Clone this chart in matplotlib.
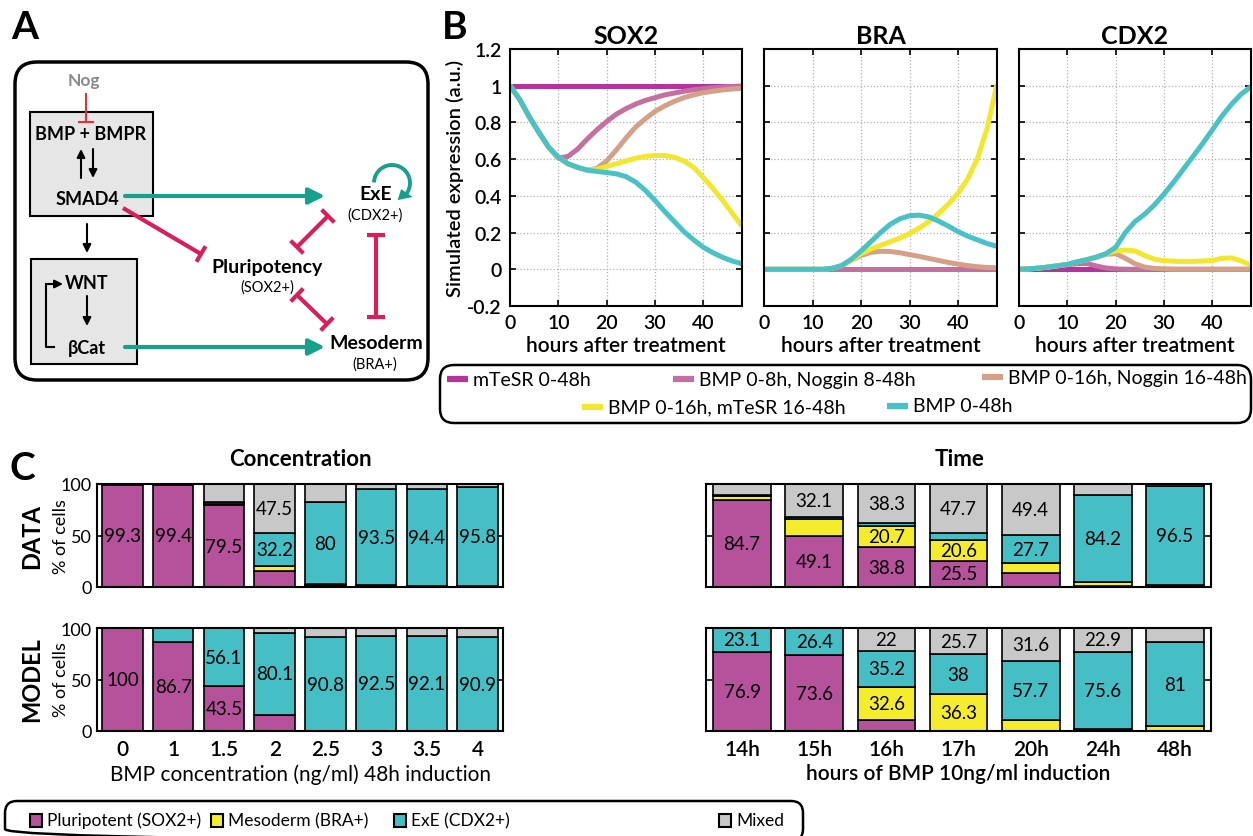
import numpy as np
import matplotlib.pyplot as plt
from matplotlib.patches import FancyBboxPatch, Rectangle

plt.rcParams['font.family'] = ['Lato', 'DejaVu Sans']

W, H = 1253, 837

# ---------------- panel B data ----------------
hours = [0, 2, 4, 6, 8, 10, 12, 14, 16, 18, 20, 22, 24,
         26, 28, 30, 32, 34, 36, 38, 40, 42, 44, 46, 48]
conditions = ['mTeSR 0-48h', 'BMP 0-8h, Noggin 8-48h', 'BMP 0-16h, Noggin 16-48h',
              'BMP 0-16h, mTeSR 16-48h', 'BMP 0-48h']
cond_colors = ['#B5339A', '#C46EA2', '#D6A088', '#F2E62E', '#48C2C6']

sox2_mtesr = [1.0] * 25
sox2_nog8 = [1.0, 0.925, 0.83, 0.745, 0.665, 0.605, 0.615, 0.655, 0.71, 0.76, 0.805, 0.845, 0.875,
             0.9, 0.92, 0.935, 0.95, 0.96, 0.97, 0.978, 0.984, 0.989, 0.993, 0.996, 0.998]
sox2_nog16 = [1.0, 0.925, 0.83, 0.745, 0.665, 0.61, 0.575, 0.555, 0.54, 0.55, 0.59, 0.65, 0.715,
              0.775, 0.82, 0.86, 0.89, 0.915, 0.935, 0.95, 0.962, 0.97, 0.977, 0.982, 0.986]
sox2_mt16 = [1.0, 0.925, 0.83, 0.745, 0.665, 0.61, 0.575, 0.555, 0.54, 0.545, 0.56, 0.575, 0.59,
             0.605, 0.615, 0.62, 0.62, 0.61, 0.59, 0.555, 0.5, 0.44, 0.375, 0.305, 0.235]
sox2_bmp = [1.0, 0.925, 0.83, 0.745, 0.665, 0.61, 0.575, 0.555, 0.54, 0.533, 0.527, 0.52, 0.505,
            0.475, 0.43, 0.375, 0.315, 0.26, 0.205, 0.16, 0.12, 0.09, 0.065, 0.045, 0.03]

bra_mtesr = [0.0] * 25
bra_nog8 = [0.0] * 25
bra_nog16 = [0, 0, 0, 0, 0, 0, 0, 0.005, 0.02, 0.05, 0.075, 0.092, 0.098,
             0.097, 0.09, 0.08, 0.07, 0.059, 0.048, 0.037, 0.028, 0.02, 0.014, 0.01, 0.008]
bra_mt16 = [0, 0, 0, 0, 0, 0, 0, 0.005, 0.02, 0.05, 0.085, 0.11, 0.13,
            0.15, 0.17, 0.195, 0.225, 0.26, 0.305, 0.355, 0.415, 0.495, 0.605, 0.77, 1.01]
bra_bmp = [0, 0, 0, 0, 0, 0, 0, 0.005, 0.02, 0.055, 0.10, 0.15, 0.2,
           0.245, 0.275, 0.292, 0.295, 0.285, 0.262, 0.235, 0.205, 0.18, 0.16, 0.14, 0.125]

cdx2_mtesr = [0.0] * 25
cdx2_nog8 = [0, 0.002, 0.006, 0.012, 0.019, 0.025, 0.03, 0.032, 0.018, 0.007, 0.002, 0, 0,
             0, 0, 0, 0, 0, 0, 0, 0, 0, 0, 0, 0]
cdx2_nog16 = [0, 0.002, 0.006, 0.012, 0.019, 0.027, 0.04, 0.052, 0.066, 0.082, 0.085, 0.06, 0.03,
              0.012, 0.005, 0.002, 0, 0, 0, 0, 0, 0, 0, 0, 0]
cdx2_mt16 = [0, 0.002, 0.006, 0.012, 0.019, 0.027, 0.04, 0.052, 0.066, 0.085, 0.1, 0.105, 0.1,
             0.075, 0.055, 0.047, 0.044, 0.043, 0.043, 0.045, 0.048, 0.06, 0.062, 0.045, 0.022]
cdx2_bmp = [0, 0.002, 0.006, 0.012, 0.019, 0.027, 0.04, 0.052, 0.066, 0.085, 0.12, 0.2, 0.26,
            0.3, 0.35, 0.41, 0.475, 0.545, 0.615, 0.685, 0.76, 0.835, 0.9, 0.955, 0.995]

# ---------------- panel C data ----------------
conc_labels = ['0', '1', '1.5', '2', '2.5', '3', '3.5', '4']
time_labels = ['14h', '15h', '16h', '17h', '20h', '24h', '48h']
fate_names = ['Pluripotent (SOX2+)', 'Mesoderm (BRA+)', 'ExE (CDX2+)', 'Mixed']
fate_colors = ['#B5529B', '#F5EC2E', '#45BFC5', '#C8C8C8']

data_conc_pluri = [99.3, 99.4, 79.5, 15.5, 1.5, 1.0, 0.8, 0.8]
data_conc_meso = [0.2, 0.2, 1.2, 4.8, 1.0, 0.5, 0.4, 0.4]
data_conc_exe = [0.2, 0.2, 1.8, 32.2, 80, 93.5, 94.4, 95.8]
data_conc_mixed = [0.3, 0.2, 17.5, 47.5, 17.5, 5.0, 4.4, 3.0]

model_conc_pluri = [100, 86.7, 43.5, 15.5, 0, 0, 0, 0]
model_conc_meso = [0, 0, 0, 0, 0, 0, 0, 0]
model_conc_exe = [0, 13.3, 56.1, 80.1, 90.8, 92.5, 92.1, 90.9]
model_conc_mixed = [0, 0, 0.4, 4.4, 9.2, 7.5, 7.9, 9.1]

data_time_pluri = [84.7, 49.1, 38.8, 25.5, 13.5, 1.0, 1.0]
data_time_meso = [3.8, 17, 20.7, 20.6, 9.4, 4.0, 0.5]
data_time_exe = [0.8, 1.8, 2.2, 6.2, 27.7, 84.2, 96.5]
data_time_mixed = [10.7, 32.1, 38.3, 47.7, 49.4, 10.8, 2.0]

model_time_pluri = [76.9, 73.6, 10.2, 0, 0, 0, 0]
model_time_meso = [0, 0, 32.6, 36.3, 10.7, 1.5, 5.0]
model_time_exe = [23.1, 26.4, 35.2, 38, 57.7, 75.6, 81]
model_time_mixed = [0, 0, 22, 25.7, 31.6, 22.9, 14]

TEAL = '#17A08E'
RED = '#D81E5B'

fig = plt.figure(figsize=(W / 100, H / 100), dpi=100)

# overlay in pixel coordinates for the diagram, boxes and letters
ov = fig.add_axes([0, 0, 1, 1])
ov.set_xlim(0, W)
ov.set_ylim(H, 0)
ov.axis('off')


def px_axes(l, t, r, b):
    return fig.add_axes([l / W, 1 - b / H, (r - l) / W, (b - t) / H])


# ---------------- panel A ----------------
ov.text(25, 27, 'A', fontsize=28, fontweight='bold', ha='center', va='center')
ov.add_patch(FancyBboxPatch((15, 63), 413, 318, boxstyle='round,pad=0,rounding_size=22',
                            fc='none', ec='k', lw=2.5))
ov.add_patch(Rectangle((30, 113), 123, 104, fc='#E6E6E6', ec='k', lw=1.5))
ov.add_patch(Rectangle((31, 260), 106, 105, fc='#E6E6E6', ec='k', lw=1.5))

ov.text(84, 81, 'Nog', fontsize=12.5, fontweight='bold', color='#8A8A8A', ha='center', va='center')
ov.plot([86, 86], [95, 123], color='#E8303A', lw=1.5)
ov.plot([79, 93], [123, 123], color='#E8303A', lw=1.5)
ov.text(91, 134, 'BMP + BMPR', fontsize=13, fontweight='bold', ha='center', va='center')
ov.text(87, 199, 'SMAD4', fontsize=13, fontweight='bold', ha='center', va='center')
ov.text(87, 283, 'WNT', fontsize=13, fontweight='bold', ha='center', va='center')
ov.text(87, 348, 'βCat', fontsize=13, fontweight='bold', ha='center', va='center')


def arrow(p0, p1, color='k', lw=1.5, ms=12):
    ov.annotate('', xy=p1, xytext=p0,
                arrowprops=dict(arrowstyle='-|>', color=color, lw=lw, mutation_scale=ms,
                                shrinkA=0, shrinkB=0))


arrow((81, 179), (81, 150))
arrow((93, 150), (93, 179))
arrow((87, 225), (87, 254))
arrow((87, 297), (87, 327))
ov.plot([54, 46, 46], [348, 348, 285], color='k', lw=1.5)
arrow((46, 285), (63, 285))

arrow((125, 197), (325, 197), color=TEAL, lw=3, ms=24)
arrow((125, 348), (325, 348), color=TEAL, lw=3, ms=24)

# self-activation loop on ExE
cx, cy, rr = 392, 184, 18
ang = np.deg2rad(np.linspace(188, 398, 40))
ov.plot(cx + rr * np.cos(ang), cy + rr * np.sin(ang), color=TEAL, lw=2.8)
tip = np.deg2rad(72)
base = np.deg2rad(34)
ov.fill([cx + rr * np.cos(tip), cx + (rr - 7) * np.cos(base), cx + (rr + 7) * np.cos(base)],
        [cy + rr * np.sin(tip), cy + (rr - 7) * np.sin(base), cy + (rr + 7) * np.sin(base)],
        color=TEAL, lw=0)

ov.text(376, 194, 'ExE', fontsize=14, fontweight='bold', ha='center', va='center')
ov.text(375, 216, '(CDX2+)', fontsize=10.5, ha='center', va='center')
ov.text(267, 267, 'Pluripotency', fontsize=14, fontweight='bold', ha='center', va='center')
ov.text(267, 288, '(SOX2+)', fontsize=10.5, ha='center', va='center')
ov.text(376, 343, 'Mesoderm', fontsize=14, fontweight='bold', ha='center', va='center')
ov.text(375, 365, '(BRA+)', fontsize=10.5, ha='center', va='center')


def inhibit(p0, p1, both=False, half=9):
    p0 = np.array(p0, float)
    p1 = np.array(p1, float)
    d = (p1 - p0) / np.hypot(*(p1 - p0))
    n = np.array([-d[1], d[0]]) * half
    ov.plot([p0[0], p1[0]], [p0[1], p1[1]], color=RED, lw=3, solid_capstyle='butt')
    for p in ([p1, p0] if both else [p1]):
        ov.plot([p[0] - n[0], p[0] + n[0]], [p[1] - n[1], p[1] + n[1]], color=RED, lw=3,
                solid_capstyle='butt')


inhibit((123, 209), (201, 255))
inhibit((297, 248), (328, 217), both=True)
inhibit((297, 296), (327, 325), both=True)
inhibit((376, 236), (376, 318), both=True)

# ---------------- panel B ----------------
ov.text(455, 27, 'B', fontsize=28, fontweight='bold', ha='center', va='center')
panels = [('SOX2', 510, 742, [sox2_mtesr, sox2_nog8, sox2_nog16, sox2_mt16, sox2_bmp]),
          ('BRA', 764, 997, [bra_mtesr, bra_nog8, bra_nog16, bra_mt16, bra_bmp]),
          ('CDX2', 1019, 1251, [cdx2_mtesr, cdx2_nog8, cdx2_nog16, cdx2_mt16, cdx2_bmp])]
for i, (name, l, r, series) in enumerate(panels):
    ax = px_axes(l, 50, r, 307)
    for ys, c in zip(series, cond_colors):
        ax.plot(hours, ys, color=c, lw=3.6, solid_capstyle='butt')
    ax.set_xlim(0, 48)
    ax.set_ylim(-0.2, 1.2)
    ax.set_xticks([0, 10, 20, 30, 40])
    ax.set_yticks([-0.2, 0, 0.2, 0.4, 0.6, 0.8, 1, 1.2])
    ax.set_yticklabels(['-0.2', '0', '0.2', '0.4', '0.6', '0.8', '1', '1.2'])
    ax.grid(True, ls=':', color='#B0B0B0', lw=0.9)
    ax.tick_params(direction='in', top=True, right=True, length=4, width=1.2,
                   labelsize=14, pad=6)
    for lab in ax.get_xticklabels() + ax.get_yticklabels():
        lab.set_fontweight('semibold')
    for s in ax.spines.values():
        s.set_linewidth(1.5)
    if i > 0:
        ax.set_yticklabels([])
    else:
        ax.set_ylabel('Simulated expression (a.u.)', fontsize=14.5, fontweight='semibold',
                      labelpad=2)
    ax.set_title(name, fontsize=18, fontweight='bold', pad=4)
    ax.set_xlabel('hours after treatment', fontsize=15, fontweight='semibold', labelpad=3)

ov.add_patch(FancyBboxPatch((440, 366), 811, 58, boxstyle='round,pad=0,rounding_size=14',
                            fc='none', ec='k', lw=1.8))
leg_pos = [(447, 380), (673, 380), (982, 378), (582, 408), (887, 407)]
for (x, y), lab, c in zip(leg_pos, conditions, cond_colors):
    ov.plot([x, x + 21], [y, y], color=c, lw=4.5, solid_capstyle='butt')
    ov.text(x + 26, y, lab, fontsize=14, ha='left', va='center')

# ---------------- panel C ----------------
ov.text(22, 468, 'C', fontsize=28, fontweight='bold', ha='center', va='center')
ov.text(300, 459, 'Concentration', fontsize=16, fontweight='bold', ha='center', va='center')
ov.text(960, 459, 'Time', fontsize=16, fontweight='bold', ha='center', va='center')


def stacked(ax, labels, parts, show_y, show_x):
    x = np.arange(len(labels))
    bottom = np.zeros(len(labels))
    for vals, c in zip(parts, fate_colors):
        vals = np.array(vals, float)
        ax.bar(x, vals, 0.8, bottom=bottom, color=c, edgecolor='k', lw=1.2)
        for xi, b, v in zip(x, bottom, vals):
            if v >= 20:
                ax.text(xi, b + v / 2, f'{v:g}', fontsize=13.5, ha='center', va='center')
        bottom += vals
    ax.set_xlim(-0.5, len(labels) - 0.5)
    ax.set_ylim(0, 100)
    ax.set_yticks([0, 50, 100])
    ax.tick_params(axis='y', direction='in', right=True, length=4, width=1.2, labelsize=13)
    if not show_y:
        ax.set_yticklabels([])
    ax.set_xticks(x)
    ax.tick_params(axis='x', length=0, pad=6)
    if show_x:
        ax.set_xticklabels(labels, fontsize=15, fontweight='semibold')
    else:
        ax.set_xticklabels([])
    for s in ax.spines.values():
        s.set_linewidth(1.5)


ax = px_axes(97, 485, 503, 588)
stacked(ax, conc_labels, [data_conc_pluri, data_conc_meso, data_conc_exe, data_conc_mixed], True, False)
ax = px_axes(97, 629, 503, 732)
stacked(ax, conc_labels, [model_conc_pluri, model_conc_meso, model_conc_exe, model_conc_mixed], True, True)
ax.set_xlabel('BMP concentration (ng/ml) 48h induction', fontsize=15, labelpad=3)
ax = px_axes(706, 485, 1211, 588)
stacked(ax, time_labels, [data_time_pluri, data_time_meso, data_time_exe, data_time_mixed], False, False)
ax = px_axes(706, 629, 1211, 732)
stacked(ax, time_labels, [model_time_pluri, model_time_meso, model_time_exe, model_time_mixed], False, True)
ax.set_xlabel('hours of BMP 10ng/ml induction', fontsize=15, fontweight='semibold', labelpad=3)

for y, name in [(537, 'DATA'), (680, 'MODEL')]:
    ov.text(32, y, name, fontsize=17, fontweight='bold', rotation=90, ha='center', va='center')
    ov.text(61, y, '% of cells', fontsize=13, rotation=90, ha='center', va='center')

ov.add_patch(FancyBboxPatch((5, 802), 798, 40, boxstyle='round,pad=0,rounding_size=12',
                            fc='none', ec='k', lw=1.8))
for x, name, c in zip([30, 211, 394, 719], fate_names, fate_colors):
    ov.add_patch(Rectangle((x, 815), 12, 13, fc=c, ec='k', lw=1.5))
    ov.text(x + 17, 821, name, fontsize=12.5, ha='left', va='center')

fig.savefig('out.png', dpi=100)
